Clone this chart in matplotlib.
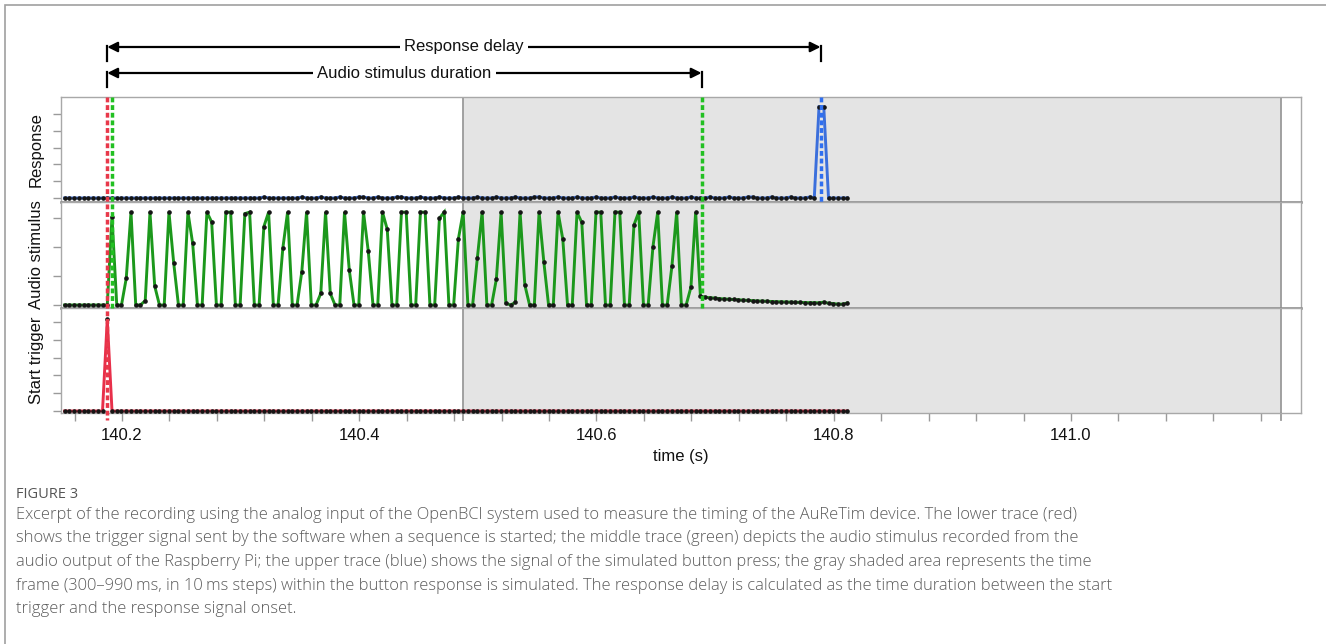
import numpy as np
import matplotlib.pyplot as plt
from matplotlib.lines import Line2D
from matplotlib.patches import Rectangle
import matplotlib.transforms as mtransforms

plt.rcParams['font.family'] = ['Liberation Sans', 'DejaVu Sans']

# sampling of the recording (OpenBCI, 250 Hz)
t_first = 140.1516          # time of first sample shown
dt = 0.004

# response channel (blue), arbitrary units
response = [
    0, 0, 0, 0, 0, 0, 0, 0, 0, 0,
    0, 0, 0, 0, 0, 0, 0, 0, 0, 0,
    0, 0, 0, 0, 0, 0, 0, 0, 0, 0,
    0, 0, 0, 0, 0, 0, 0, 0, 0, 0,
    0, 0, 0.06, 0, 0, 0, 0, 0, 0, 0,
    0.06, 0, 0, 0, 0.06, 0, 0, 0, 0.06, 0,
    0, 0, 0.06, 0.06, 0, 0, 0.06, 0, 0, 0,
    0.06, 0.06, 0, 0, 0, 0.06, 0, 0, 0, 0.06,
    0, 0, 0, 0.06, 0, 0, 0, 0.06, 0, 0,
    0, 0.06, 0, 0, 0, 0.06, 0, 0, 0, 0.06,
    0.06, 0, 0, 0, 0.06, 0, 0, 0, 0.06, 0,
    0, 0, 0.06, 0, 0, 0, 0.06, 0, 0, 0,
    0.06, 0, 0, 0, 0.06, 0, 0, 0, 0.06, 0,
    0, 0, 0.06, 0, 0, 0, 0.06, 0, 0, 0,
    0.06, 0, 0, 0, 0.06, 0.06, 0, 0, 0, 0.06,
    0, 0, 0, 0.06, 0, 0, 0, 0.06, 0, 5.43,
    5.43, 0, 0, 0, 0, 0,
]

# audio stimulus channel (green)
audio = [
    0, 0, 0, 0, 0, 0, 0, 0, 0, 0,
    3.04, 0, 0, 0.92, 3.2, 0, 0, 0.15, 3.2, 0.65,
    0, 0, 3.2, 1.45, 0, 0, 3.2, 2.12, 0, 0,
    3.2, 2.86, 0, 0, 3.2, 3.2, 0, 0, 3.15, 3.2,
    0, 0, 2.7, 3.2, 0, 0, 1.96, 3.2, 0, 0,
    1.15, 3.2, 0, 0, 0.40, 3.2, 0.40, 0, 0, 3.2,
    1.21, 0, 0, 3.2, 1.86, 0, 0, 3.2, 2.61, 0,
    0, 3.2, 3.2, 0, 0, 3.2, 3.2, 0, 0, 2.99,
    3.2, 0, 0, 2.28, 3.2, 0, 0, 1.63, 3.2, 0,
    0, 0.89, 3.2, 0.06, 0, 0.09, 3.2, 0.69, 0, 0,
    3.2, 1.49, 0, 0, 3.2, 2.27, 0, 0, 3.2, 2.85,
    0, 0, 3.2, 3.2, 0, 0, 3.2, 3.2, 0, 0,
    2.76, 3.2, 0, 0, 2.01, 3.2, 0, 0, 1.34, 3.2,
    0, 0, 0.61, 3.2, 0.31, 0.27, 0.25, 0.24, 0.22, 0.21,
    0.20, 0.19, 0.18, 0.17, 0.16, 0.15, 0.14, 0.135, 0.13, 0.12,
    0.115, 0.11, 0.105, 0.10, 0.095, 0.09, 0.085, 0.08, 0.08, 0.075,
    0.10, 0.06, 0.05, 0.03, 0.03, 0.07,
]

# start trigger channel (red)
trigger = [0] * 166
trigger[9] = 5.15

# event markers (s)
t_trigger = 140.1876
t_audio_on = 140.1918
t_audio_off = 140.6886
t_response = 140.7889
resp_window = (140.4874, 141.177)

panel_names = ['Response', 'Audio stimulus', 'Start trigger']

t = t_first + dt * np.arange(len(audio))

W, H = 1326, 644
fig = plt.figure(figsize=(W / 100, H / 100), dpi=100)


def fy(py):
    return 1 - py / H


left, right = 61 / W, 1301 / W
bounds = [(97, 201.7), (201.7, 307.7), (307.7, 413)]
axes = []
for top, bot in bounds:
    ax = fig.add_axes([left, fy(bot), right - left, (bot - top) / H])
    axes.append(ax)

ax_r, ax_a, ax_t = axes
ylims = [(-0.22, 6.01), (-0.093, 3.56), (-0.112, 5.8)]
yticks = [range(6), range(4), range(6)]
series = [response, audio, trigger]
colors = ['#3b6fdc', '#1c981c', '#e8304a']

for ax, lim, tk, ys, c, name in zip(axes, ylims, yticks, series, colors, panel_names):
    ax.set_xlim(140.1486, 141.1939)
    ax.set_ylim(*lim)
    ax.axvspan(*resp_window, color='#e4e4e4', lw=0, zorder=0)
    for xv in resp_window:
        ax.axvline(xv, color='#9a9a9a', lw=1.3, zorder=1)
    ax.plot(t, ys, color=c, lw=2.1, solid_joinstyle='miter', zorder=3)
    ax.plot(t, ys, ls='none', marker='o', ms=2.3, mfc='#151515', mec='#151515', zorder=4)
    ax.set_yticks(list(tk))
    ax.set_yticklabels([])
    ax.tick_params(axis='y', direction='out', length=6, color='#9a9a9a', width=1)
    for s in ax.spines.values():
        s.set_color('#a8a8a8')
        s.set_linewidth(1)
    ax.set_ylabel(name, fontsize=12, color='#111111')
    ax.yaxis.set_label_coords(-0.0141, 0.5)
    ax.set_facecolor('white')

for ax in (ax_r, ax_a):
    ax.spines['bottom'].set_color('#858585')
    ax.spines['bottom'].set_linewidth(1.8)
    ax.tick_params(axis='x', bottom=False, labelbottom=False)

ax_t.set_xticks([140.2, 140.4, 140.6, 140.8, 141.0])
ax_t.set_xticklabels(['140.2', '140.4', '140.6', '140.8', '141.0'])
ax_t.set_xticks(np.arange(140.16, 141.17, 0.04), minor=True)
ax_t.tick_params(axis='x', which='both', direction='out', length=6,
                 color='#9a9a9a', width=1, labelsize=12, labelcolor='#111111', pad=5)
ax_t.set_xlabel('time (s)', fontsize=12, color='#111111', labelpad=4)
for xv in resp_window:
    ax_t.axvline(xv, ymin=-0.07, ymax=0, color='#9a9a9a', lw=1.3, clip_on=False)

# dashed event markers across panels
blend = mtransforms.blended_transform_factory(ax_t.transData, fig.transFigure)
markers = [
    (t_trigger, 97, 420, '#e8384a'),
    (t_audio_on, 97, 307.7, '#22c022'),
    (t_audio_off, 97, 307.7, '#22c022'),
    (t_response, 97, 201.7, '#2f6ff0'),
]
for xv, y0, y1, c in markers:
    fig.add_artist(Line2D([xv, xv], [fy(y0), fy(y1)], transform=blend, color=c,
                          lw=2.5, ls=(0, (1.4, 0.8)), zorder=6))

# duration arrows
arrows = [
    ('Response delay', t_trigger, t_response, 47),
    ('Audio stimulus duration', t_trigger, t_audio_off, 73),
]
for label, x0, x1, py in arrows:
    ax_t.annotate('', xy=(x0, fy(py)), xytext=(x1, fy(py)), xycoords=blend, textcoords=blend,
                  arrowprops=dict(arrowstyle='<|-|>', color='black', lw=1.6,
                                  mutation_scale=15, shrinkA=0, shrinkB=0))
    for xv in (x0, x1):
        fig.add_artist(Line2D([xv, xv], [fy(py - 1), fy(py + 14)], transform=blend,
                              color='black', lw=1.6))
    fig.text((x0 + x1) / 2, fy(py), label, transform=blend, ha='center', va='center',
             fontsize=12, color='#111111',
             bbox=dict(facecolor='white', edgecolor='none', pad=3))

# caption
fig.text(16 / W, fy(494), 'FIGURE 3', fontsize=10.5, color='#555555',
         family=['Open Sans', 'DejaVu Sans'], va='center')
caption = [
    'Excerpt of the recording using the analog input of the OpenBCI system used to measure the timing of the AuReTim device. The lower trace (red)',
    'shows the trigger signal sent by the software when a sequence is started; the middle trace (green) depicts the audio stimulus recorded from the',
    'audio output of the Raspberry Pi; the upper trace (blue) shows the signal of the simulated button press; the gray shaded area represents the time',
    'frame (300\u2013990\u2009ms, in 10\u2009ms steps) within the button response is simulated. The response delay is calculated as the time duration between the start',
    'trigger and the response signal onset.',
]
for i, line in enumerate(caption):
    fig.text(16 / W, fy(515 + 23.5 * i), line, fontsize=11.9, color='#5c5c5c',
             family=['Open Sans', 'DejaVu Sans'], weight='light', va='center')

fig.add_artist(Rectangle((5 / W, -0.01), 1.2, fy(5) + 0.01, transform=fig.transFigure,
                         fill=False, edgecolor='#a0a0a0', lw=1.2))

fig.savefig('out.png', dpi=100)
